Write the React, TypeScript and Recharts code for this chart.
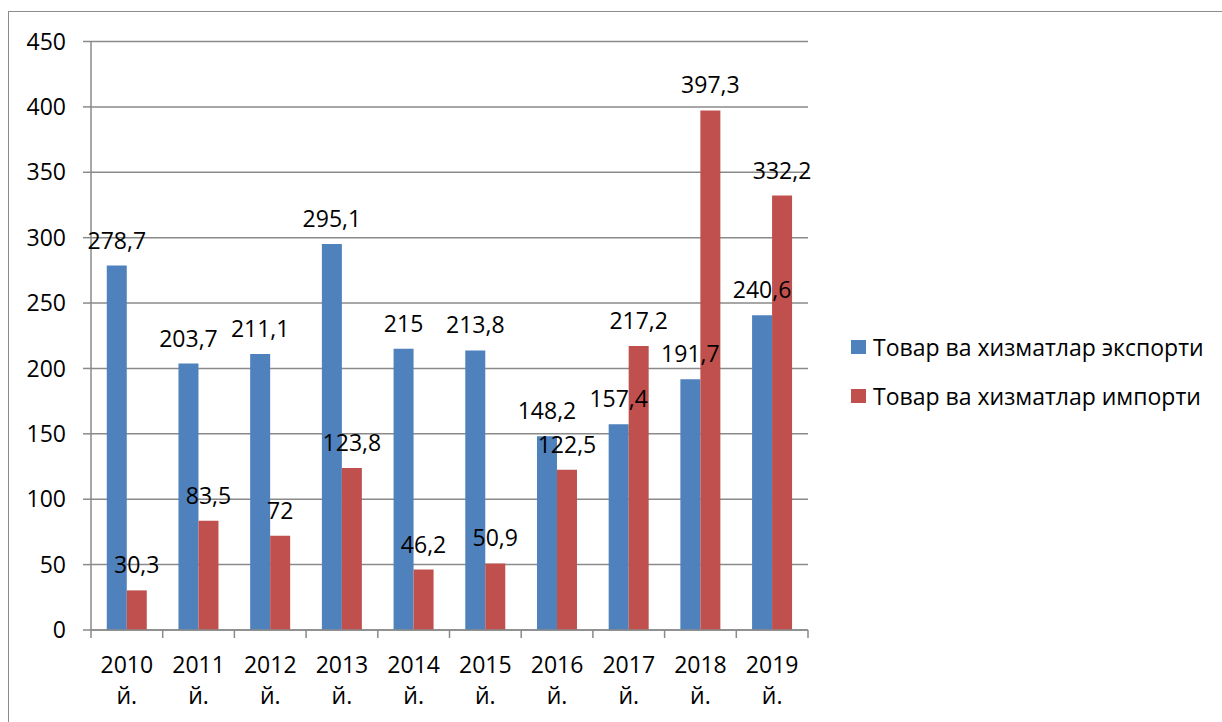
import { BarChart, Bar, XAxis, YAxis, CartesianGrid, LabelList } from 'recharts'

const years = ['2010', '2011', '2012', '2013', '2014', '2015', '2016', '2017', '2018', '2019']
const exportValues = [278.7, 203.7, 211.1, 295.1, 215, 213.8, 148.2, 157.4, 191.7, 240.6]
const importValues = [30.3, 83.5, 72, 123.8, 46.2, 50.9, 122.5, 217.2, 397.3, 332.2]
const yTicks = [0, 50, 100, 150, 200, 250, 300, 350, 400, 450]

const seriesNames = ['Товар ва хизматлар экспорти', 'Товар ва хизматлар импорти']
const colors = ['#4F81BD', '#C0504D']

const data = years.map((y, i) => ({
  year: y,
  exp: exportValues[i],
  imp: importValues[i],
}))

const FONT = '"Open Sans", sans-serif'
const GRID = '#8a8a8a'
const PLOT_LEFT = 91
const PLOT_RIGHT = 808
const BAND = (PLOT_RIGHT - PLOT_LEFT) / years.length

const fmt = (v: unknown) => String(v).replace('.', ',')

function YearTick(props: any) {
  const { x, y, payload, index } = props
  const last = index === years.length - 1
  return (
    <g>
      <line x1={x - BAND / 2} y1={y} x2={x - BAND / 2} y2={y + 8} stroke={GRID} strokeWidth={1.5} />
      {last && <line x1={x + BAND / 2} y1={y} x2={x + BAND / 2} y2={y + 8} stroke={GRID} strokeWidth={1.5} />}
      <text x={x} y={y + 43} textAnchor="middle" fontSize={23} fontFamily={FONT} fill="#000">
        {payload.value}
      </text>
      <text x={x} y={y + 74} textAnchor="middle" fontSize={23} fontFamily={FONT} fill="#000">
        й.
      </text>
    </g>
  )
}

export default function App() {
  return (
    <div style={{ position: 'absolute', left: 0, top: 0, width: 1222, height: 722, overflow: 'hidden', background: '#fff' }}>
      <div
        style={{
          position: 'absolute',
          left: 8,
          top: 11,
          width: 1240,
          height: 740,
          border: '1.5px solid #8c8c8c',
        }}
      />
      <div style={{ position: 'absolute', left: 0, top: 0 }}>
        <BarChart
          width={1222}
          height={722}
          data={data}
          margin={{ top: 41.5, right: 1222 - PLOT_RIGHT, bottom: 0, left: 0 }}
          barCategoryGap="22%"
          barGap={0}
        >
          <CartesianGrid vertical={false} stroke={GRID} strokeWidth={1.5} />
          <XAxis
            dataKey="year"
            height={92}
            tickSize={0}
            tickMargin={0}
            tickLine={false}
            stroke={GRID}
            strokeWidth={1.5}
            interval={0}
            tick={<YearTick />}
          />
          <YAxis
            width={PLOT_LEFT}
            domain={[0, 450]}
            ticks={yTicks}
            tickSize={8}
            tickMargin={17}
            stroke={GRID}
            strokeWidth={1.5}
            tick={{ fontSize: 23, fontFamily: FONT, fill: '#000' }}
          />
          <Bar dataKey="exp" name={seriesNames[0]} fill={colors[0]} isAnimationActive={false}>
            <LabelList dataKey="exp" position="top" offset={17} formatter={fmt} style={{ fontSize: 23, fontFamily: FONT, fill: '#000' }} />
          </Bar>
          <Bar dataKey="imp" name={seriesNames[1]} fill={colors[1]} isAnimationActive={false}>
            <LabelList dataKey="imp" position="top" offset={17} formatter={fmt} style={{ fontSize: 23, fontFamily: FONT, fill: '#000' }} />
          </Bar>
        </BarChart>
      </div>
      {seriesNames.map((name, i) => (
        <div
          key={name}
          style={{
            position: 'absolute',
            left: 851,
            top: 332 + i * 48.5,
            display: 'flex',
            alignItems: 'center',
            fontFamily: FONT,
            fontSize: 23,
            lineHeight: '30px',
            color: '#000',
            whiteSpace: 'nowrap',
          }}
        >
          <span style={{ display: 'inline-block', width: 15, height: 14, background: colors[i], marginRight: 7 }} />
          {name}
        </div>
      ))}
    </div>
  )
}
